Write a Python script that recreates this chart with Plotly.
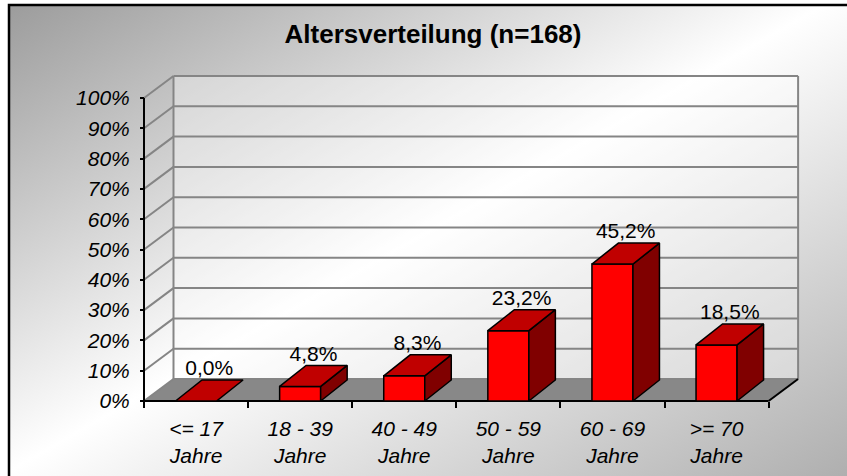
import base64
import plotly.graph_objects as go

# ---------------- data ----------------
categories = ["<= 17", "18 - 39", "40 - 49", "50 - 59", "60 - 69", ">= 70"]
category_suffix = "Jahre"
values = [0.0, 4.8, 8.3, 23.2, 45.2, 18.5]
value_labels = ["0,0%", "4,8%", "8,3%", "23,2%", "45,2%", "18,5%"]
y_ticks = [0, 10, 20, 30, 40, 50, 60, 70, 80, 90, 100]
y_tick_labels = [f"{v}%" for v in y_ticks]
title_text = "Altersverteilung (n=168)"

# ---------------- geometry ----------------
W, H = 847, 476
X0_PX = 144.0    # pixel x of the start of the category axis
CAT_PX = 104.1   # pixels per category
Y0_PX = 401.0    # pixel y of 0 %
PCT_PX = 3.03    # pixels per percent


def x_of(px):
    return (px - X0_PX) / CAT_PX - 0.5


def y_of(py):
    return (Y0_PX - py) / PCT_PX


n = len(categories)
xs = list(range(n))
bounds = [i - 0.5 for i in range(n + 1)]
half_w = 0.197
floor_dx, floor_dy = 29.5 / CAT_PX, 22.0 / PCT_PX
bar_dx, bar_dy = 26.5 / CAT_PX, 21.0 / PCT_PX
label_off = 10.0 / PCT_PX
x_left, x_right = -0.5, n - 0.5
bx0, bx1 = x_left + floor_dx, x_right + floor_dx

FONT = "Liberation Sans, Arial, sans-serif"
GRID = "#858585"

# ---------------- background (gradient + frame) ----------------
svg = f'''<svg xmlns="http://www.w3.org/2000/svg" width="{W}" height="{H}" viewBox="0 0 {W} {H}" preserveAspectRatio="none">
<defs><linearGradient id="g" x1="0" y1="0" x2="1" y2="1">
<stop offset="0" stop-color="#9c9c9c"/><stop offset="0.47" stop-color="#ffffff"/><stop offset="1" stop-color="#a8a8a8"/>
</linearGradient></defs>
<rect x="0" y="0" width="{W}" height="{H}" fill="#ffffff"/>
<rect x="9" y="5" width="{W + 20}" height="{H + 20}" fill="url(#g)"/>
<path d="M9,{H + 10} L9,5 L{W + 10},5" fill="none" stroke="#000000" stroke-width="2.5"/>
</svg>'''
src = "data:image/svg+xml;base64," + base64.b64encode(svg.encode()).decode()

fig = go.Figure()

# ---------------- 3D box shapes ----------------
shapes = []
shapes.append(dict(type="rect", xref="x", yref="y", x0=bx0, x1=bx1, y0=floor_dy, y1=100 + floor_dy,
                   fillcolor="rgba(255,255,255,0.35)", line=dict(width=0), layer="below"))
shapes.append(dict(type="path", xref="x", yref="y",
                   path=f"M{x_left},0 L{x_right},0 L{bx1},{floor_dy} L{bx0},{floor_dy} Z",
                   fillcolor="#888888", line=dict(width=0), layer="below"))
for v in y_ticks:
    shapes.append(dict(type="line", xref="x", yref="y", x0=x_left, y0=v, x1=bx0, y1=v + floor_dy,
                       line=dict(color=GRID, width=2), layer="below"))
    shapes.append(dict(type="line", xref="x", yref="y", x0=bx0, y0=v + floor_dy, x1=bx1, y1=v + floor_dy,
                       line=dict(color=GRID, width=2), layer="below"))
shapes.append(dict(type="line", xref="x", yref="y", x0=bx0, y0=floor_dy, x1=bx0, y1=100 + floor_dy,
                   line=dict(color=GRID, width=2), layer="below"))
shapes.append(dict(type="line", xref="x", yref="y", x0=bx1, y0=floor_dy, x1=bx1, y1=100 + floor_dy,
                   line=dict(color=GRID, width=2), layer="below"))
# floor front / right edges and value axis line
shapes.append(dict(type="line", xref="x", yref="y", x0=x_right, y0=0, x1=bx1, y1=floor_dy,
                   line=dict(color="black", width=2), layer="below"))
shapes.append(dict(type="line", xref="x", yref="y", x0=x_left, y0=0, x1=x_right, y1=0,
                   line=dict(color="black", width=2), layer="below"))
shapes.append(dict(type="line", xref="x", yref="y", x0=x_left, y0=0, x1=x_left, y1=100,
                   line=dict(color="black", width=2), layer="below"))

# ---------------- bars ----------------
fig.add_trace(go.Bar(x=xs, y=values, width=2 * half_w,
                     marker=dict(color="#ff0000", line=dict(color="black", width=1.5)),
                     hoverinfo="skip", showlegend=False))

top_x, top_y, side_x, side_y = [], [], [], []
for i, v in zip(xs, values):
    top_x += [i - half_w, i + half_w, i + half_w + bar_dx, i - half_w + bar_dx, i - half_w, None]
    top_y += [v, v, v + bar_dy, v + bar_dy, v, None]
    if v > 0:
        side_x += [i + half_w, i + half_w + bar_dx, i + half_w + bar_dx, i + half_w, i + half_w, None]
        side_y += [0, bar_dy, v + bar_dy, v, 0, None]

fig.add_trace(go.Scatter(x=side_x, y=side_y, mode="lines", fill="toself", fillcolor="#800000",
                         line=dict(color="black", width=1.5), hoverinfo="skip", showlegend=False))
fig.add_trace(go.Scatter(x=top_x, y=top_y, mode="lines", fill="toself", fillcolor="#c00000",
                         line=dict(color="black", width=1.5), hoverinfo="skip", showlegend=False))

# data labels
fig.add_trace(go.Scatter(x=[i + bar_dx / 2 for i in xs],
                         y=[v + bar_dy + label_off for v in values],
                         mode="text", text=value_labels, textposition="middle center",
                         textfont=dict(family=FONT, size=21, color="black"),
                         hoverinfo="skip", showlegend=False))

# helper trace for the tick-only category axis
fig.add_trace(go.Scatter(x=[0], y=[0], xaxis="x2", mode="markers", marker=dict(opacity=0),
                         hoverinfo="skip", showlegend=False))

fig.add_layout_image(dict(source=src, xref="paper", yref="paper", x=0, y=1, sizex=1, sizey=1,
                          sizing="stretch", xanchor="left", yanchor="top", layer="below"))

fig.update_layout(
    width=W, height=H, autosize=False,
    margin=dict(l=0, r=0, t=0, b=0, pad=0),
    paper_bgcolor="white", plot_bgcolor="rgba(0,0,0,0)",
    showlegend=False, hovermode=False,
    shapes=shapes,
    title=dict(text=f"<b>{title_text}</b>", x=433 / W, y=1 - 34 / H, xanchor="center", yanchor="middle",
               font=dict(family=FONT, size=26, color="black")),
    xaxis=dict(range=[x_of(0), x_of(W)], anchor="free", position=1 - Y0_PX / H,
               tickmode="array", tickvals=xs,
               ticktext=[f"{c}<br>{category_suffix}" for c in categories],
               ticks="", showgrid=False, zeroline=False, showline=False, automargin=False,
               tickfont=dict(family=FONT, size=21, color="black", style="italic"),
               ticklabelstandoff=13),
    xaxis2=dict(overlaying="x", matches="x", anchor="free", position=1 - Y0_PX / H,
                tickmode="array", tickvals=bounds, ticks="outside", ticklen=6, tickwidth=2,
                tickcolor="black", showticklabels=False, showgrid=False, zeroline=False,
                showline=False, automargin=False),
    yaxis=dict(range=[y_of(H), y_of(0)], anchor="free", position=X0_PX / W, side="left",
               tickmode="array", tickvals=y_ticks, ticktext=y_tick_labels,
               ticks="outside", ticklen=4, tickwidth=2, tickcolor="black",
               showgrid=False, zeroline=False, showline=False, automargin=False,
               tickfont=dict(family=FONT, size=21, color="black", style="italic"),
               ticklabelstandoff=6),
)

fig.write_html("out.html", config={"displayModeBar": False, "staticPlot": True},
               post_script="document.body.style.margin='0';")
